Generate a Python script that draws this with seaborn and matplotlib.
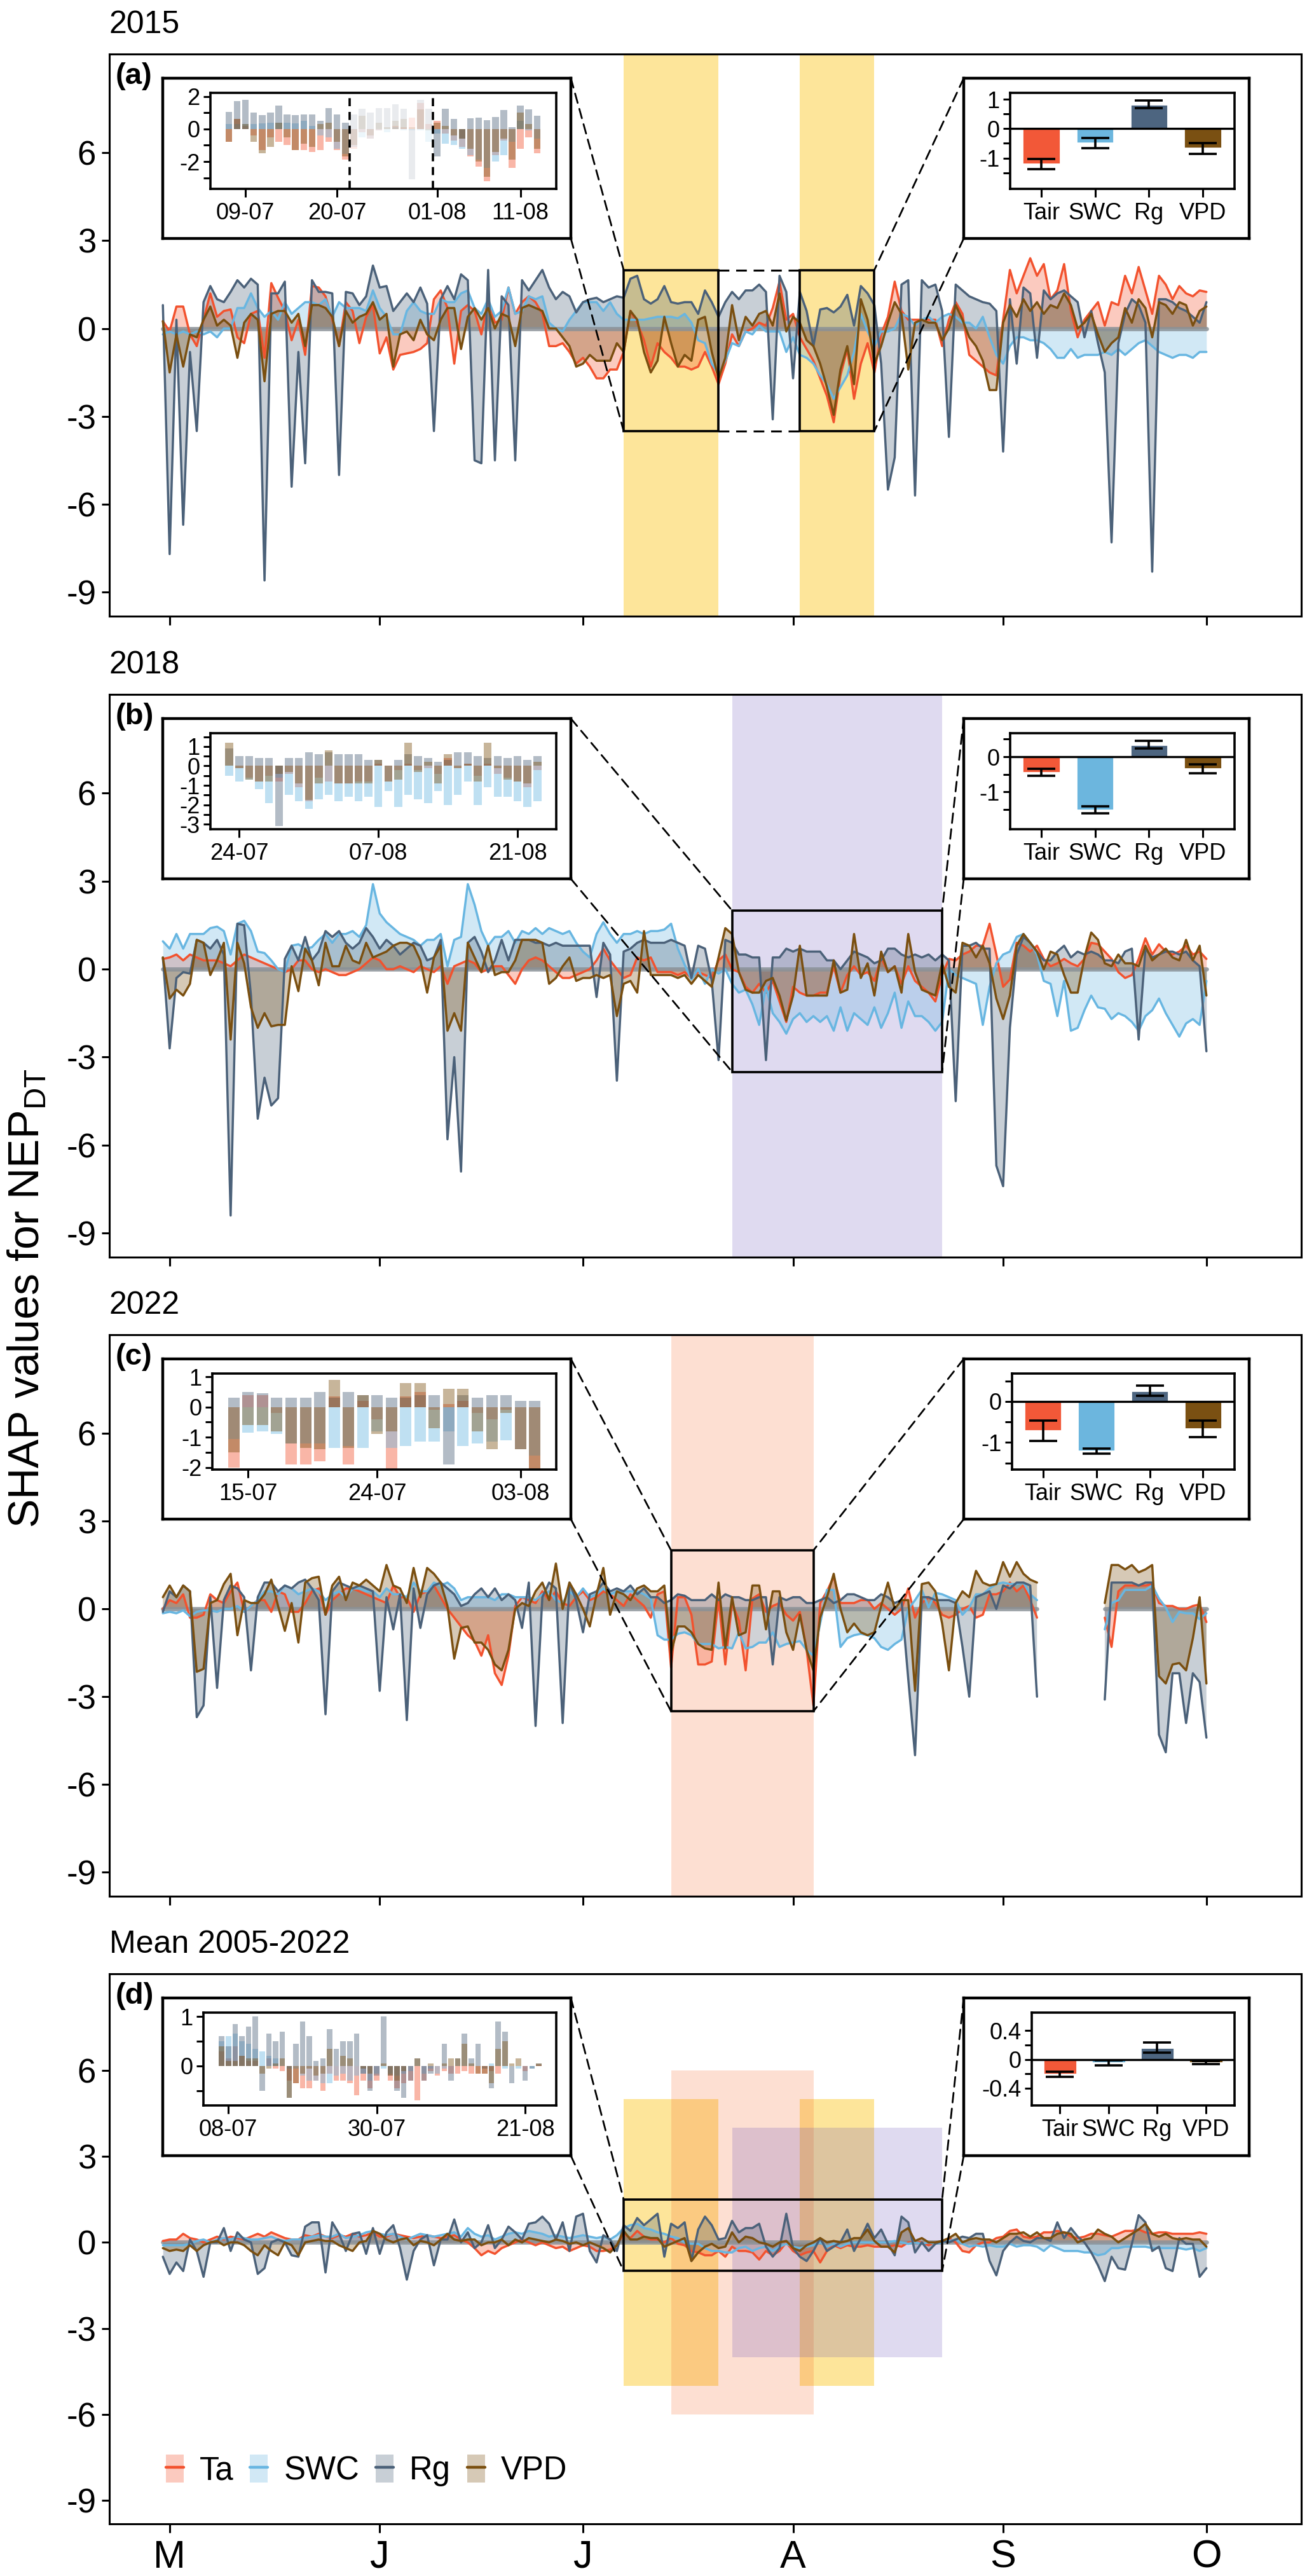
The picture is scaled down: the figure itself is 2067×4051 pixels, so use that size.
import numpy as np
import matplotlib
matplotlib.use("Agg")
import matplotlib.pyplot as plt
import seaborn as sns
from matplotlib.patches import Rectangle, Patch, ConnectionPatch
from matplotlib.lines import Line2D
from matplotlib.legend_handler import HandlerTuple
from matplotlib.ticker import MultipleLocator, FixedLocator, FuncFormatter

nan = np.nan

# day index, 0 = 1 May, 153 = 1 Oct
days = np.arange(-1, 154)
month_pos = [0, 31, 61, 92, 123, 153]
month_lab = ['M', 'J', 'J', 'A', 'S', 'O']

# ---------------- 2015 ----------------
ta_2015 = [0.25, -0.1, 0.75, 0.75, -0.2, -0.6, 0.3, 1.2, 0.4, 0.6,
           0.65, -0.3, -0.5, 0.5, 0.6, -1.0, 1.55, 1.05, 0.6, -0.4,
           0.3, -0.9, 1.45, 1.4, 1.1, 0.3, -0.6, 0.9, 0.6, -0.5,
           0.4, 0.8, -0.85, -0.3, -1.4, -0.9, -0.85, -0.8, -0.7, -0.5,
           1.0, 1.3, 0.7, -1.2, 0.6, 0.8, 0.6, -0.2, 1.0, 0.2,
           0.3, 1.4, 0.5, 0.9, 1.1, 0.9, 0.5, -0.6, -0.6, -0.5,
           -0.8, -1.2, -1.0, -1.3, -1.7, -1.7, -1.4, -1.4, -0.8, 0.6,
           0.2, -0.4, -1.3, -0.5, -0.8, -1.0, -1.3, -1.3, -1.4, -1.3,
           -0.8, -1.3, -1.9, -1.2, -0.2, -0.6, -0.1, 0.0, 0.2, 0.1,
           0.7, 1.6, 0.3, 0.5, -0.3, -0.7, -1.1, -1.7, -2.3, -3.2,
           -1.6, -0.7, -2.4, -1.2, -0.5, -1.5, -0.2, 0.4, 1.6, 0.6,
           0.3, 0.3, 0.3, 0.3, 0.3, -0.6, 0.3, 0.9, 0.5, -0.9,
           -1.1, -1.3, -1.5, -1.6, 0.3, 2.0, 1.2, 1.8, 2.4, 1.8,
           2.2, 1.0, 1.3, 2.2, 0.6, -0.3, 0.3, 0.6, 0.9, 0.1,
           0.9, 0.8, 1.8, 1.2, 2.1, 1.3, 0.5, 1.8, 1.5, 1.0,
           1.45, 1.2, 1.1, 1.3, 1.25]
swc_2015 = [-0.2, -0.1, -0.2, -0.1, -0.2, -0.1, -0.2, -0.1, -0.3, 0.0,
            0.0, 0.7, 0.7, 1.2, 0.7, 0.4, 0.6, 0.3, 0.9, 0.5,
            0.7, 0.9, 0.9, 0.8, 1.0, 0.4, 0.9, 0.7, 0.7, 0.7,
            0.6, 1.3, 0.7, 0.4, -0.2, -0.2, 0.6, 0.9, 0.6, 0.5,
            0.5, 1.0, 0.9, 0.9, 1.2, 1.3, 0.7, 0.5, 1.0, 0.4,
            0.6, 1.4, 0.5, 0.6, 1.1, 1.0, 1.1, 0.2, 0.0, -0.1,
            0.3, 0.6, 0.9, 0.9, 0.9, 0.6, 0.9, 0.5, 0.3, 0.3,
            0.3, 0.3, 0.35, 0.4, 0.4, 0.4, 0.35, 0.5, 0.2, -0.4,
            -0.5, -1.2, -1.55, -1.1, -0.5, -0.6, -0.1, -0.2, 0.1, -0.1,
            -0.1, -0.1, -0.8, -0.3, -0.9, -1.0, -1.2, -1.6, -1.9, -2.4,
            -2.0, -1.6, -0.8, 0.5, -0.1, -0.6, -0.1, -0.1, 0.0, 0.5,
            0.4, 0.1, 0.3, 0.4, 0.2, 0.4, 0.5, 0.4, 0.2, 0.2,
            0.0, 0.4, -0.3, -0.9, -1.2, -0.6, -0.3, -0.3, -0.4, -0.4,
            -0.5, -0.7, -1.0, -1.0, -0.7, -1.0, -0.9, -0.9, -0.9, -0.8,
            -0.9, -0.7, -0.9, -0.7, -0.5, -0.4, -0.6, -0.8, -0.9, -1.0,
            -0.9, -0.9, -1.0, -0.8, -0.8]
rg_2015 = [0.8, -7.7, 0.3, -6.7, -0.8, -3.5, 0.9, 1.45, 1.0, 0.9,
           1.25, 1.65, 1.4, 1.7, 1.5, -8.6, 1.2, 1.2, 1.6, -5.4,
           -0.8, -4.6, 1.65, 1.25, 1.25, 1.2, -5.0, 1.25, 1.2, 0.8,
           1.1, 2.15, 1.4, 1.45, 0.6, 0.9, 1.2, 0.9, 1.4, 0.85,
           -3.5, 1.0, 1.45, 1.0, 1.85, 1.65, -4.5, -4.6, 2.0, -4.5,
           1.1, 0.8, -4.5, 1.65, 1.3, 1.65, 2.0, 1.4, 1.0, 1.25,
           1.1, 0.55, 0.9, 1.0, 1.05, 0.9, 1.0, 1.1, 1.05, 1.7,
           1.8, 1.0, 0.85, 1.0, 1.45, 0.9, 0.85, 0.9, 0.9, 0.5,
           1.3, 0.9, 0.4, 0.9, 1.25, 1.0, 1.3, 1.3, 1.5, 1.25,
           -3.1, 1.8, 1.25, -1.7, 1.25, 0.6, -0.6, 0.65, 0.7, 0.55,
           0.75, 1.15, 0.1, 1.45, 1.2, 0.8, -1.2, -5.5, -4.4, 1.5,
           1.65, -5.7, 1.65, 1.4, 1.5, 0.6, -3.7, 1.5, 1.3, 1.1,
           1.0, 0.9, 0.85, 0.6, -4.2, 1.0, -1.2, 1.4, 1.2, -1.0,
           1.3, 1.0, 1.2, 1.3, 1.1, 0.9, -0.3, 0.6, -0.5, -1.5,
           -7.3, -0.5, 0.5, 1.0, 0.8, 0.2, -8.3, 1.0, 1.0, 0.9,
           0.7, 0.6, 0.4, 0.2, 0.9]
vpd_2015 = [0.25, -1.5, -0.2, -1.3, -0.2, -0.3, 0.3, 0.75, 0.1, 0.3,
            0.1, -1.0, 0.2, 0.5, 0.3, -1.8, 0.5, 0.6, 0.6, 0.2,
            0.5, -0.6, 0.8, 0.8, 0.7, 0.4, -0.6, 0.6, 0.2, 0.4,
            0.5, 0.9, 0.3, 0.5, -1.3, -0.2, -0.1, -0.4, 0.3, -0.2,
            -0.4, 0.3, 0.7, 0.7, -0.7, 0.4, 0.7, 0.3, 0.7, 0.0,
            0.5, 0.4, -0.6, 0.7, 0.8, 0.7, 0.6, 0.0, 0.0, -0.3,
            -0.6, -1.3, -1.2, -0.9, -1.1, -1.1, -1.1, -0.5, -0.8, 0.6,
            0.3, -0.8, -1.5, -1.1, 0.4, -0.5, -1.3, -0.9, -1.1, 0.3,
            0.4, -0.8, -1.7, -1.0, 0.8, -0.4, 0.4, 0.1, 0.5, 0.6,
            0.1, 1.2, -0.1, 0.4, 0.2, -0.4, -0.6, -1.2, -2.0, -2.95,
            -1.4, -0.6, -1.9, 1.0, 0.3, -1.2, -0.6, 0.2, 0.9, 0.5,
            -1.4, 0.2, 0.3, 0.2, 0.2, -0.4, 0.0, 0.8, 0.3, -0.3,
            -0.6, -1.1, -2.1, -2.1, 0.2, 0.8, 0.4, 1.0, 0.6, 0.9,
            0.5, 0.8, 0.7, 1.2, 0.8, 0.0, 0.2, 0.5, -0.2, -0.8,
            -0.5, -0.3, 0.7, 0.2, 1.0, 0.7, -0.3, 0.9, 0.8, 0.5,
            0.9, 0.8, 0.1, 0.6, 0.75]

# ---------------- 2018 ----------------
ta_2018 = [0.35, 0.4, 0.5, 0.3, 0.5, 0.4, 0.3, 0.3, 0.3, 0.2,
           0.1, 0.3, 0.5, 0.4, 0.3, 0.2, 0.1, 0.0, -0.1, 0.0,
           0.3, 0.3, 0.0, -0.1, 0.0, -0.1, -0.2, -0.2, -0.1, 0.0,
           0.2, 0.4, 0.3, 0.0, 0.0, 0.1, 0.0, -0.1, 0.1, 0.0,
           -0.1, 0.1, -0.5, 0.1, 0.2, 0.3, 0.2, -0.1, 0.0, 0.1,
           0.1, -0.2, -0.5, 0.0, 0.3, 0.4, 0.3, 0.1, -0.1, -0.3,
           -0.3, -0.2, -0.1, 0.0, 0.3, 0.7, 0.3, 0.0, -0.3, -0.2,
           0.4, 0.3, 0.4, -0.1, -0.1, -0.1, -0.2, -0.1, -0.3, -0.1,
           -0.2, -0.3, 0.3, 0.5, 0.0, -0.1, -0.6, -0.8, -0.5, -0.8,
           -0.4, -1.1, -1.8, -0.6, -0.8, -0.9, -0.9, -0.8, -0.8, 0.1,
           -0.8, -0.2, 0.1, -0.2, -0.1, -0.4, 0.4, -0.1, 0.1, -0.5,
           0.1, -0.4, -0.6, -0.8, -1.1, -0.2, 0.35, 0.3, 0.5, 0.6,
           0.8, 0.8, 1.55, 0.5, -0.6, -0.35, 0.9, 0.8, 0.6, 0.8,
           0.35, 0.1, 0.2, 0.35, 0.2, 0.1, 0.35, 0.9, 0.85, 0.6,
           0.35, -0.1, -0.3, -0.2, 0.35, 1.05, 0.5, 0.85, 0.6, 0.5,
           0.6, 0.8, 0.5, 0.6, 0.35]
swc_2018 = [0.95, 0.7, 1.2, 0.7, 1.2, 1.2, 1.2, 1.4, 1.45, 1.3,
            0.5, 1.55, 1.65, 1.3, 0.6, 0.55, 0.3, 0.0, -0.1, 0.8,
            0.85, 0.7, 0.75, 1.0, 1.2, 0.9, 1.2, 1.2, 1.3, 1.1,
            1.5, 2.9, 1.9, 1.6, 1.4, 1.2, 1.1, 1.0, 0.8, 1.0,
            1.0, 1.2, 0.1, 1.0, 1.1, 2.9, 2.2, 1.3, 0.8, 1.1,
            1.1, 1.3, 0.9, 1.3, 1.2, 1.4, 1.2, 1.4, 1.3, 1.2,
            1.3, 0.9, 0.6, 0.4, 1.2, 1.6, 1.2, 0.9, 1.2, 1.2,
            1.3, 1.2, 1.3, 1.3, 1.35, 1.55, 0.7, 0.15, -0.35, 0.0,
            -0.5, 0.0, -0.15, 0.0, -0.5, -0.8, -0.7, -1.2, -1.9, -0.6,
            -1.5, -1.8, -2.2, -1.7, -1.5, -1.8, -1.6, -1.8, -1.6, -2.1,
            -1.3, -2.1, -1.5, -1.7, -1.9, -1.3, -2.0, -1.5, -0.8, -2.0,
            -1.1, -1.6, -1.6, -1.8, -2.1, -1.8, 0.0, -0.2, -0.3, -0.4,
            -0.5, -1.9, -0.6, 0.2, 0.5, 0.6, 1.1, 1.2, 0.9, 0.5,
            -0.4, -0.5, -1.6, -0.4, -2.1, -2.0, -1.4, -0.9, -1.3, -1.35,
            -1.7, -1.5, -1.6, -1.8, -2.1, -1.6, -1.4, -1.0, -1.5, -1.9,
            -2.3, -1.85, -1.7, -1.9, -0.4]
rg_2018 = [0.4, -2.7, -0.3, -0.1, -0.15, 1.0, 0.9, 0.7, 1.0, 0.5,
           -8.4, 1.55, 1.5, -0.9, -5.1, -3.7, -4.65, -4.4, 0.35, 0.8,
           0.3, 1.1, 0.3, 0.6, 1.3, 1.1, 1.3, 0.9, 0.7, 0.9,
           1.4, 1.1, 0.7, 1.0, 0.8, 0.5, 0.7, 0.9, 0.8, 0.3,
           0.4, 1.0, -5.8, -3.0, -6.9, 0.9, 1.1, 0.6, -0.1, 0.3,
           1.0, 0.3, 1.0, 1.0, 1.0, 0.9, 0.9, 0.8, 0.9, 0.8,
           0.8, 0.8, 0.8, 0.8, -0.95, 0.9, 0.5, -3.8, 0.6, 0.7,
           0.9, 1.0, 0.9, 0.9, 0.9, 1.0, 0.9, 0.8, -0.3, 0.8,
           0.7, -0.4, -3.1, 1.0, 0.9, 0.5, 0.5, 0.4, 0.4, -3.1,
           0.4, 0.4, 0.7, 0.6, 0.7, 0.6, 0.6, 0.6, 0.3, 0.3,
           0.0, 0.3, 0.6, 0.5, 0.4, 0.2, 0.3, 0.7, 0.7, 0.5,
           0.4, 0.5, 0.4, 0.5, 0.3, 0.5, 0.3, -4.5, 0.8, 0.8,
           0.9, 0.7, 0.7, -6.7, -7.4, -2.0, 0.5, 1.1, 0.9, 0.6,
           0.3, 0.3, 0.6, 0.8, 0.4, 0.6, 0.5, 0.6, 0.5, 0.3,
           0.3, 0.2, 0.6, 0.7, -2.4, 0.7, 0.4, 0.5, 0.6, 0.6,
           0.5, 0.6, 0.3, 0.1, -2.8]
vpd_2018 = [0.4, -1.0, -0.7, -0.9, -0.5, 1.0, 0.9, -0.2, 0.3, 0.9,
            -2.4, 0.9, 0.2, -1.3, -2.0, -1.5, -1.95, -1.9, -1.9, 0.1,
            -0.75, 0.7, 0.3, -0.55, 0.9, 0.1, 0.1, 0.8, 0.3, 0.2,
            0.9, 0.4, 0.5, 0.6, 0.8, 0.9, 0.9, 0.8, 0.3, -0.8,
            0.4, 0.8, -2.1, -1.5, -2.1, 0.9, 0.4, -0.1, 0.8, -0.2,
            -0.1, -0.1, 0.3, 1.0, 1.0, 1.0, 0.9, -0.5, -0.3, 0.1,
            0.4, -0.4, -0.3, -0.3, -0.2, -0.3, -0.2, -1.6, -0.5, -0.4,
            -0.8, 1.3, -0.2, -0.2, -0.2, -0.2, -0.3, -0.2, -0.5, -0.2,
            -0.4, -0.6, 0.4, 1.4, 1.2, -0.1, -0.7, -0.8, -0.8, -0.4,
            -0.3, -0.9, -1.75, -0.9, 0.8, -0.9, -0.9, -0.9, -0.9, 0.3,
            -0.8, -0.7, 1.2, -0.3, 0.2, -0.9, 0.6, -0.1, 0.1, -0.8,
            1.2, -0.1, -0.7, -0.8, -0.9, 0.2, -0.6, -0.8, 0.9, 0.8,
            0.4, 0.8, 0.2, -1.0, -1.7, -0.9, 0.8, 1.2, 0.9, 0.6,
            0.0, 0.6, 0.5, -0.2, -0.8, -0.8, 0.4, 1.25, 1.0, 0.2,
            0.1, 0.5, 0.2, 0.2, 0.1, 0.8, 0.3, 0.5, 0.7, 0.4,
            0.3, 1.0, 0.3, 0.8, -0.9]

# ---------------- 2022 (gap in September) ----------------
ta_2022 = [0.0, 0.3, 0.2, 0.5, -0.3, -0.3, -0.2, 0.5, 0.3, 0.2,
           0.6, 0.9, -0.1, 0.1, 0.3, 0.3, -0.1, 0.6, 0.5, -0.1,
           -0.1, 0.2, 0.6, 0.7, -0.2, 0.3, 0.5, 0.7, 0.7, 0.6,
           0.5, 0.4, 0.3, 0.2, 0.8, 0.4, 0.4, -0.1, 0.5, 0.6,
           0.8, 0.4, 0.0, -0.3, -0.6, -0.9, -1.1, -1.6, -0.9, -2.2,
           -2.6, -1.6, 0.1, 0.4, 0.3, 0.2, 0.6, 0.3, 0.6, 0.2,
           0.1, 0.4, 0.6, 0.3, 0.4, 0.6, 0.5, 0.3, 0.1, 0.5,
           0.3, 0.1, -0.3, 0.5, 0.6, -2.0, 0.4, 0.4, -0.2, -1.9,
           -1.9, -1.8, 0.35, -1.9, 0.2, -0.4, -2.1, 0.35, 0.5, -0.1,
           0.1, 0.2, -0.2, -0.4, -0.1, -1.4, -3.3, 0.2, 0.6, 1.1,
           0.2, 0.2, 0.2, 0.3, 0.3, 0.0, 0.2, 0.0, -0.2, 0.0,
           0.7, -0.3, 0.2, 0.4, 0.2, -0.2, -0.3, -0.2, 0.0, 0.1,
           -0.3, -0.2, 0.5, 0.5, 0.6, 0.9, 0.6, 0.8, 0.3, -0.3,
           nan, nan, nan, nan, nan, nan, nan, nan, nan, -0.3,
           -1.3, 0.6, 0.8, 0.8, 0.8, 0.8, 0.85, 0.2, 0.1, 0.1,
           0.0, 0.0, 0.1, 0.15, -0.45]
swc_2022 = [-0.15, -0.1, -0.15, -0.05, -0.25, -0.1, -0.05, -0.05, -0.1, 0.0,
            0.0, 0.1, -0.1, 0.1, 0.3, 0.6, 0.6, 0.5, 0.8, 0.7,
            0.5, 0.6, 0.7, 0.6, 0.3, 0.5, 0.6, 0.4, 0.7, 0.7,
            0.6, 0.6, 0.4, 0.7, 0.5, 0.5, 0.4, 0.9, 0.6, 0.6,
            0.9, 0.8, 0.9, 0.7, 0.3, 0.4, 0.4, 0.4, 0.4, 0.3,
            0.5, 0.5, 0.4, 0.4, 0.4, 0.3, 0.5, 0.6, 0.3, 0.2,
            0.6, 0.4, 0.7, 0.4, 0.5, 0.7, 0.5, 0.6, 0.6, 0.6,
            0.6, 0.5, 0.35, -0.9, -1.05, -1.05, -0.85, -0.8, -0.9, -1.2,
            -1.2, -1.2, -1.35, -1.3, -1.35, -0.8, -1.35, -1.3, -1.15, -1.15,
            -0.8, -1.3, -1.2, -1.15, -1.1, -1.4, -1.6, -0.5, 0.65, 0.65,
            -1.3, -1.0, -0.9, -0.85, -0.9, -1.0, -1.3, -1.4, -1.2, -1.05,
            0.0, 0.3, 0.65, 0.05, 0.55, 0.5, 0.4, 0.3, -0.2, 0.05,
            0.5, 0.5, 0.7, 0.85, 0.9, 0.85, 0.85, 0.9, 0.5, 0.3,
            nan, nan, nan, nan, nan, nan, nan, nan, nan, -0.7,
            0.2, 0.3, 0.65, 0.65, 0.65, 0.65, 0.8, 0.35, 0.05, -0.45,
            -0.1, -0.15, -0.15, -0.35, -0.15]
rg_2022 = [-0.1, 0.6, 0.4, 0.8, 0.6, -3.7, -3.3, 0.4, -2.7, 0.3,
           0.8, 0.7, 0.4, -2.1, 0.4, 0.9, 0.9, 0.6, 0.8, 0.7,
           0.9, 1.0, 0.7, 0.3, -3.6, 0.6, 0.9, 0.8, 0.7, 0.8,
           0.7, 0.6, -2.8, 0.4, -0.7, 0.5, -3.8, 0.7, -0.65, 0.5,
           0.8, 0.9, 0.7, 0.5, 0.1, 0.2, 0.5, 0.7, 0.4, 0.7,
           0.3, 0.5, 0.3, -0.65, 0.9, -4.0, 0.4, 0.9, 0.7, -3.9,
           0.9, 0.3, -0.8, 0.5, 0.6, 0.9, 0.6, 0.7, 0.6, 0.8,
           0.5, 0.7, 0.4, 0.4, 0.2, 0.3, 0.5, 0.45, 0.3, 0.3,
           0.3, 0.5, 0.3, 0.5, 0.4, 0.4, 0.3, 0.3, 0.4, 0.4,
           -1.9, 0.4, 0.3, 0.4, 0.4, 0.2, 0.2, 0.3, 0.4, 0.2,
           0.3, 0.5, 0.5, 0.4, 0.3, 0.3, 0.5, 0.4, 0.2, 0.3,
           -2.4, -5.0, 0.4, 0.4, 0.3, 0.3, 0.3, 0.2, -1.3, -3.0,
           0.4, 0.5, 0.6, 0.0, 0.8, 0.7, 0.9, 0.9, 0.8, -3.0,
           nan, nan, nan, nan, nan, nan, nan, nan, nan, -3.1,
           0.9, 0.9, 0.9, 0.9, 0.8, 0.9, 0.9, -4.3, -4.9, -2.2,
           -2.2, -3.9, -2.2, -2.5, -4.4]
vpd_2022 = [0.4, 0.8, 0.4, 0.8, 0.6, -2.15, -2.05, 0.2, 0.3, 0.85,
            1.2, -0.9, 0.3, 0.2, 0.2, 0.5, 1.0, 0.1, -0.75, 0.2,
            -1.15, 0.9, 1.05, 1.1, -0.2, 0.8, 1.1, 0.3, 0.9, 0.8,
            1.0, 0.8, 0.6, 1.5, 0.8, 0.7, 0.2, 1.4, 0.4, 1.4,
            1.2, 0.9, 0.1, -1.7, -0.65, -0.6, -1.15, -1.15, -1.4, -1.9,
            -2.1, -1.4, 0.0, 0.2, 0.1, 0.6, 0.9, 0.3, 1.55, 0.0,
            0.9, 0.5, 0.0, -0.6, 0.5, 1.4, -0.2, 0.6, 0.5, 0.3,
            0.7, 0.8, 0.6, 0.6, 0.8, -1.5, -0.6, -0.6, -0.8, -1.2,
            -1.35, -1.4, 0.9, -1.35, 0.4, -0.9, -0.8, 0.8, 0.8, -0.7,
            0.6, 0.6, -0.8, -1.4, -0.2, -1.4, -2.1, -0.3, 0.4, 1.2,
            0.0, -0.8, -0.5, -0.8, -0.9, -0.8, 0.1, 0.9, 0.0, 0.3,
            0.3, -2.8, 0.85, 0.9, 0.6, -0.5, -2.1, 0.2, 0.6, 0.4,
            1.3, 0.9, 0.8, 0.85, 1.6, 1.1, 1.6, 1.2, 1.0, 0.9,
            nan, nan, nan, nan, nan, nan, nan, nan, nan, 0.2,
            1.5, 1.5, 1.35, 1.5, 1.25, 1.35, 1.5, -2.3, -2.55, -1.9,
            -1.85, -2.1, -1.0, 0.4, -2.55]

# ---------------- mean 2005-2022 ----------------
ta_mean = [0.05, 0.1, 0.1, 0.3, 0.15, 0.1, 0.0, 0.1, 0.2, 0.1,
           0.2, 0.15, 0.1, 0.2, 0.3, 0.2, 0.35, 0.25, 0.15, 0.1,
           0.1, 0.25, 0.2, 0.3, 0.2, 0.15, 0.25, 0.2, 0.3, 0.2,
           0.25, 0.35, 0.2, 0.2, 0.3, 0.25, 0.2, 0.15, 0.2, 0.25,
           0.2, 0.15, 0.2, 0.25, 0.1, 0.0, -0.2, -0.45, -0.3, -0.4,
           -0.2, -0.1, 0.0, 0.1, 0.0, -0.1, 0.0, -0.1, -0.2, -0.15,
           -0.3, -0.2, -0.1, -0.15, -0.3, -0.3, -0.25, -0.1, 0.3, 0.15,
           0.4, 0.2, 0.1, 0.1, 0.0, 0.15, -0.05, -0.1, -0.3, -0.35,
           -0.45, -0.45, -0.3, -0.5, -0.15, -0.3, -0.3, -0.35, -0.6, -0.3,
           -0.45, -0.3, 0.0, -0.3, -0.45, -0.35, -0.3, -0.7, -0.3, -0.1,
           -0.2, -0.1, -0.15, -0.15, -0.1, -0.15, -0.15, -0.15, -0.1, -0.15,
           0.0, 0.0, 0.0, -0.1, 0.0, 0.03, 0.15, 0.0, -0.3, -0.35,
           -0.1, 0.0, 0.0, 0.15, 0.2, 0.4, 0.45, 0.2, 0.15, 0.2,
           0.35, 0.35, 0.4, 0.35, 0.2, 0.15, 0.2, 0.3, 0.3, 0.25,
           0.2, 0.3, 0.4, 0.4, 0.45, 0.35, 0.3, 0.35, 0.35, 0.3,
           0.3, 0.3, 0.3, 0.35, 0.3]
swc_mean = [-0.1, -0.1, -0.1, -0.1, -0.05, 0.05, 0.1, 0.0, 0.1, 0.15,
            0.1, 0.2, 0.15, 0.1, 0.1, 0.15, 0.2, 0.1, 0.05, 0.1,
            0.1, 0.15, 0.2, 0.25, 0.2, 0.2, 0.3, 0.15, 0.2, 0.25,
            0.35, 0.4, 0.3, 0.25, 0.3, 0.2, 0.1, 0.2, 0.3, 0.25,
            0.2, 0.25, 0.3, 0.35, 0.2, 0.5, 0.3, 0.2, 0.25, 0.1,
            0.2, 0.3, 0.35, 0.3, 0.4, 0.35, 0.3, 0.2, 0.25, 0.2,
            0.15, 0.2, 0.25, 0.2, 0.15, 0.2, 0.1, 0.25, 0.5, 0.6,
            0.65, 0.5, 0.45, 0.35, 0.3, 0.2, 0.15, 0.0, -0.05, -0.05,
            -0.2, -0.3, -0.3, -0.35, -0.35, -0.2, -0.15, -0.3, -0.2, -0.15,
            -0.3, -0.15, -0.05, -0.15, -0.2, -0.15, -0.1, 0.0, -0.15, -0.05,
            -0.15, -0.05, 0.0, 0.0, 0.0, 0.0, 0.0, 0.0, 0.05, 0.0,
            -0.05, 0.0, -0.05, 0.0, -0.05, 0.0, 0.05, 0.1, -0.05, -0.15,
            -0.1, -0.15, -0.1, -0.15, -0.15, -0.05, -0.15, -0.1, -0.1, -0.15,
            -0.3, -0.1, -0.2, -0.3, -0.3, -0.3, -0.35, -0.35, -0.45, -0.4,
            -0.2, -0.2, -0.15, -0.15, -0.15, -0.15, -0.2, -0.2, -0.2, -0.2,
            -0.2, -0.25, -0.2, -0.3, -0.2]
rg_mean = [-0.5, -1.1, -0.7, -1.0, 0.1, -0.3, -1.2, 0.0, 0.0, 0.5,
           -0.3, 0.35, 0.1, 0.0, -1.1, -0.9, 0.0, 0.1, 0.0, -0.45,
           -0.5, 0.55, 0.7, 0.7, -1.05, 0.7, 0.3, -0.3, 0.3, 0.35,
           -0.4, 0.5, -0.4, 0.35, 0.6, -0.2, -1.3, -0.3, 0.1, 0.25,
           -0.8, 0.1, 0.1, 0.8, 0.0, 0.35, -0.2, 0.0, 0.6, -0.2,
           0.1, 0.55, 0.35, 0.1, 0.65, 0.7, 0.9, 0.65, 0.1, 0.7,
           -0.3, 0.9, 1.0, -0.3, -0.7, 0.25, 0.1, -0.3, 0.6, 0.4,
           0.85, 0.6, 0.8, 1.0, -0.5, 0.65, 0.5, 0.7, -0.65, 0.45,
           0.9, 0.6, 0.1, 0.15, 0.75, 0.35, 0.5, 0.5, 0.65, -0.15,
           -0.5, -0.2, 1.0, -0.2, -0.5, -0.65, -0.3, 0.15, -0.3, -0.15,
           0.0, 0.45, -0.3, 0.15, 0.65, 0.15, 0.45, -0.05, -0.45, 0.9,
           0.7, -0.35, 0.0, -0.3, -0.05, 0.05, 0.0, 0.1, 0.2, 0.15,
           0.3, 0.3, -0.65, -1.15, -0.3, 0.0, 0.2, 0.05, 0.0, 0.15,
           0.15, 0.05, 0.7, 0.15, 0.5, 0.2, 0.0, -0.35, -0.8, -1.35,
           -0.5, -0.9, -0.95, -0.05, 0.95, 0.7, -0.3, -0.15, -0.9, -1.0,
           0.15, -0.05, -0.05, -1.2, -0.9]
vpd_mean = [-0.2, -0.3, -0.25, -0.3, -0.1, -0.3, -0.1, 0.0, 0.05, -0.1,
            0.0, 0.0, -0.1, -0.3, -0.45, -0.1, -0.3, -0.45, 0.0, -0.1,
            -0.45, 0.0, 0.05, 0.1, 0.05, 0.05, -0.1, -0.2, -0.3, 0.0,
            0.05, 0.4, 0.3, 0.1, 0.0, 0.1, 0.15, -0.1, 0.05, 0.0,
            -0.1, 0.1, 0.3, 0.1, 0.05, 0.1, 0.1, -0.1, 0.0, 0.0,
            0.1, -0.1, 0.1, 0.0, 0.15, 0.1, 0.05, 0.0, 0.1, 0.05,
            -0.05, 0.0, -0.1, 0.0, -0.1, -0.2, -0.35, -0.1, 0.4, 0.1,
            0.1, 0.2, 0.15, 0.15, -0.15, -0.05, 0.05, 0.15, -0.65, -0.35,
            -0.15, -0.05, -0.2, -0.15, 0.35, 0.0, 0.2, 0.15, 0.0, -0.05,
            -0.15, 0.0, 0.05, -0.2, -0.3, -0.1, 0.0, 0.15, 0.0, 0.05,
            0.0, 0.05, 0.15, 0.15, 0.45, 0.05, -0.15, -0.15, -0.35, 0.35,
            0.5, 0.05, 0.15, 0.0, 0.0, 0.05, 0.15, 0.3, 0.0, 0.1,
            0.15, 0.1, 0.1, 0.0, 0.15, 0.3, 0.3, 0.35, 0.2, 0.35,
            0.15, 0.15, 0.3, 0.35, 0.3, 0.0, 0.1, 0.15, 0.45, 0.3,
            0.2, 0.0, 0.15, 0.3, 0.45, 0.65, 0.3, 0.2, 0.3, 0.15,
            0.1, 0.15, 0.1, 0.1, -0.15]

# heatwave windows (day index) and summary bars
hw_2015 = [(67, 81), (93, 104)]
hw_2018 = [(83, 114)]
hw_2022 = [(74, 95)]
drivers = ['Tair', 'SWC', 'Rg', 'VPD']
mean_2015, se_2015 = [-1.2, -0.49, 0.835, -0.67], [0.17, 0.18, 0.125, 0.19]
mean_2018, se_2018 = [-0.45, -1.51, 0.34, -0.34], [0.1, 0.1, 0.11, 0.13]
mean_2022, se_2022 = [-0.72, -1.21, 0.26, -0.67], [0.25, 0.06, 0.12, 0.2]
mean_all, se_all = [-0.207, -0.045, 0.165, -0.045], [0.037, 0.035, 0.072, 0.025]

# ---------------- style ----------------
sns.set_style("ticks", {"axes.edgecolor": "black", "xtick.color": "black",
                        "ytick.color": "black", "text.color": "black",
                        "axes.labelcolor": "black"})
plt.rcParams['font.family'] = ['Liberation Sans', 'DejaVu Sans']
plt.rcParams['mathtext.fontset'] = 'custom'
plt.rcParams['mathtext.rm'] = 'Liberation Sans'
plt.rcParams['axes.unicode_minus'] = False

names = ['Ta', 'SWC', 'Rg', 'VPD']
col = {'Ta': '#F2522E', 'SWC': '#68B6E1', 'Rg': '#4B6179', 'VPD': '#7A4F10'}
bar_cols = ['#F25838', '#6CB6DE', '#4D6580', '#7A5012']
# heatwave shading (colour, alpha)
sh_2015 = ('#FAC003', 0.4)
sh_2022 = ('#F55F1E', 0.2)
sh_2018 = ('#5F46B4', 0.2)
dash = (0, (5.5, 3.5))

W, H = 2067, 4051
fig = plt.figure(figsize=(W / 200, H / 200), dpi=200)


def rect(l, t, r, b):
    return [l / W, 1 - b / H, (r - l) / W, (b - t) / H]


def gfmt(v, pos):
    return '0' if abs(v) < 1e-9 else f'{v:g}'


def connect(outer, corner, ax, xy):
    con = ConnectionPatch(xyA=corner, coordsA=outer.transAxes, xyB=xy,
                          coordsB=ax.transData, linestyle=dash, lw=1.0,
                          color='black')
    fig.add_artist(con)


def main_panel(top, bot, series, title, tag, months=False):
    ax = fig.add_axes(rect(172, top, 2047, bot))
    ax.set_xlim(-8.9, 167.0)
    ax.set_ylim(-9.82, 9.37)
    for nm in names:
        y = np.asarray(series[nm], float)
        ax.fill_between(days, 0, y, color=col[nm], alpha=0.3, lw=0, zorder=2)
    zero = np.where(np.isnan(np.asarray(series['Rg'], float)), nan, 0.0)
    ax.plot(days, zero, color='#8A9197', lw=2.4, alpha=0.85, zorder=2.5)
    for nm in names:
        ax.plot(days, np.asarray(series[nm], float), color=col[nm], lw=1.25,
                zorder=3)
    ax.set_yticks([-9, -6, -3, 0, 3, 6])
    ax.yaxis.set_major_formatter(FuncFormatter(gfmt))
    ax.set_xticks(month_pos)
    ax.set_xticklabels(month_lab if months else [])
    ax.tick_params(axis='y', direction='out', length=4.5, width=1.1,
                   labelsize=19, pad=3)
    ax.tick_params(axis='x', direction='out', length=5, width=1.1,
                   labelsize=22, pad=4)
    for s in ax.spines.values():
        s.set_linewidth(1.1)
    ax.set_title(title, loc='left', fontsize=18, pad=12)
    ax.text(0.005, 0.985, tag, transform=ax.transAxes, ha='left', va='top',
            fontsize=17, fontweight='bold')
    return ax


def shade(ax, x0, x1, sh, half=None):
    c, a = sh
    if half is None:
        ax.axvspan(x0, x1, color=c, alpha=a, lw=0, zorder=0)
    else:
        ax.add_patch(Rectangle((x0, -half), x1 - x0, 2 * half, color=c,
                               alpha=a, lw=0, zorder=0))


def outer_box(l, t, r, b):
    o = fig.add_axes(rect(l, t, r, b))
    o.set_xticks([])
    o.set_yticks([])
    o.set_facecolor('white')
    for s in o.spines.values():
        s.set_linewidth(1.6)
    return o


def left_inset(top, series, win, inner_l, xlim, ylim, major, minor,
               xt, xtl, fade=None, hgt=(38, 290, 61, 212)):
    outer = outer_box(256, top + hgt[0], 898, top + hgt[1])
    inn = fig.add_axes(rect(inner_l, top + hgt[2], 875, top + hgt[3]))
    tt = np.arange(win[0], win[1] + 1)
    faded = np.zeros(len(tt), bool) if fade is None else \
        (tt >= fade[0]) & (tt <= fade[1])
    for nm in names:
        v = np.asarray(series[nm], float)[tt + 1]
        inn.bar(tt[~faded], v[~faded], width=0.8, color=col[nm], alpha=0.42,
                lw=0)
        if faded.any():
            inn.bar(tt[faded], v[faded], width=0.8, color=col[nm],
                    alpha=0.12, lw=0)
    if fade is not None:
        for xv in (fade[0] - 0.5, fade[1] + 0.5):
            inn.axvline(xv, color='black', lw=1.3, ls=(0, (3.5, 2.5)))
    inn.set_xlim(*xlim)
    inn.set_ylim(*ylim)
    inn.yaxis.set_major_locator(MultipleLocator(major))
    inn.yaxis.set_minor_locator(MultipleLocator(minor))
    inn.yaxis.set_major_formatter(FuncFormatter(gfmt))
    inn.set_xticks(xt)
    inn.set_xticklabels(xtl)
    inn.tick_params(which='both', direction='out', length=4, width=1.1,
                    labelsize=13, pad=2)
    inn.tick_params(axis='x', length=4.5, pad=3)
    for s in inn.spines.values():
        s.set_linewidth(1.3)
    return outer


def right_inset(top, means, errs, inner_l, ylim, majors, minors,
                hgt=(38, 290, 61, 212)):
    outer = outer_box(1516, top + hgt[0], 1965, top + hgt[1])
    inn = fig.add_axes(rect(inner_l, top + hgt[2], 1942, top + hgt[3]))
    sns.barplot(x=drivers, y=means, hue=drivers, palette=bar_cols,
                legend=False, width=0.7, saturation=1, ax=inn)
    inn.errorbar(np.arange(4), means, yerr=errs, fmt='none', ecolor='black',
                 elinewidth=1.3, capsize=8, capthick=1.3)
    inn.axhline(0, color='black', lw=1.2)
    inn.set_xlim(-0.58, 3.59)
    inn.set_ylim(*ylim)
    inn.set_xlabel('')
    inn.set_ylabel('')
    inn.yaxis.set_major_locator(FixedLocator(majors))
    inn.yaxis.set_minor_locator(FixedLocator(minors))
    inn.yaxis.set_major_formatter(FuncFormatter(gfmt))
    inn.tick_params(which='both', direction='out', length=4, width=1.1,
                    labelsize=13, pad=2)
    inn.tick_params(axis='x', length=4.5, pad=3)
    for s in inn.spines.values():
        s.set_linewidth(1.3)
    return outer


def zoom_box(ax, x0, x1, y0, y1):
    ax.add_patch(Rectangle((x0, y0), x1 - x0, y1 - y0, fill=False,
                           ec='black', lw=1.3, zorder=5))


# ---------------- (a) 2015 ----------------
sa = {'Ta': ta_2015, 'SWC': swc_2015, 'Rg': rg_2015, 'VPD': vpd_2015}
top = 85
ax = main_panel(top, 969, sa, '2015', '(a)')
for x0, x1 in hw_2015:
    shade(ax, x0, x1, sh_2015)
    zoom_box(ax, x0, x1, -3.5, 2.0)
ax.plot([81, 93], [2.0, 2.0], color='black', lw=1.1, ls=dash, zorder=5)
ax.plot([81, 93], [-3.5, -3.5], color='black', lw=1.1, ls=dash, zorder=5)
o1 = left_inset(top, sa, (67, 104), 331, (64.8, 106.3), (-3.68, 2.22), 2, 1,
                [69, 80, 92, 102], ['09-07', '20-07', '01-08', '11-08'],
                fade=(82, 91))
o2 = right_inset(top, mean_2015, se_2015, 1589, (-2.05, 1.22),
                 [-1, 0, 1], [-1.5, -0.5, 0.5])
connect(o1, (1, 1), ax, (67, 2.0))
connect(o1, (1, 0), ax, (67, -3.5))
connect(o2, (0, 1), ax, (104, 2.0))
connect(o2, (0, 0), ax, (104, -3.5))

# ---------------- (b) 2018 ----------------
sb = {'Ta': ta_2018, 'SWC': swc_2018, 'Rg': rg_2018, 'VPD': vpd_2018}
top = 1092
ax = main_panel(top, 1977, sb, '2018', '(b)')
for x0, x1 in hw_2018:
    shade(ax, x0, x1, sh_2018)
    zoom_box(ax, x0, x1, -3.5, 2.0)
o1 = left_inset(top, sb, (83, 114), 331, (81.1, 115.9), (-3.25, 1.68), 1, 0.5,
                [84, 98, 112], ['24-07', '07-08', '21-08'])
o2 = right_inset(top, mean_2018, se_2018, 1589, (-2.06, 0.67),
                 [-1, 0], [-1.5, -0.5, 0.5])
connect(o1, (1, 1), ax, (83, 2.0))
connect(o1, (1, 0), ax, (83, -3.5))
connect(o2, (0, 1), ax, (114, 2.0))
connect(o2, (0, 0), ax, (114, -3.5))

# ---------------- (c) 2022 ----------------
sc = {'Ta': ta_2022, 'SWC': swc_2022, 'Rg': rg_2022, 'VPD': vpd_2022}
top = 2099
ax = main_panel(top, 2982, sc, '2022', '(c)')
for x0, x1 in hw_2022:
    shade(ax, x0, x1, sh_2022)
    zoom_box(ax, x0, x1, -3.5, 2.0)
o1 = left_inset(top, sc, (74, 95), 334, (72.5, 96.5), (-2.07, 1.11), 1, 0.5,
                [75, 84, 94], ['15-07', '24-07', '03-08'])
o2 = right_inset(top, mean_2022, se_2022, 1592, (-1.66, 0.68),
                 [-1, 0], [-1.5, -0.5, 0.5])
connect(o1, (1, 1), ax, (74, 2.0))
connect(o1, (1, 0), ax, (74, -3.5))
connect(o2, (0, 1), ax, (95, 2.0))
connect(o2, (0, 0), ax, (95, -3.5))

# ---------------- (d) mean ----------------
sd = {'Ta': ta_mean, 'SWC': swc_mean, 'Rg': rg_mean, 'VPD': vpd_mean}
top = 3104
ax = main_panel(top, 3969, sd, 'Mean 2005-2022', '(d)', months=True)
for x0, x1 in hw_2015:
    shade(ax, x0, x1, sh_2015, half=5)
for x0, x1 in hw_2022:
    shade(ax, x0, x1, sh_2022, half=6)
for x0, x1 in hw_2018:
    shade(ax, x0, x1, sh_2018, half=4)
zoom_box(ax, 67, 114, -1.0, 1.5)
hd = (38, 286, 61, 207)
o1 = left_inset(top, sd, (67, 114), 320, (64.3, 116.6), (-0.8, 1.08), 1, 0.5,
                [68, 90, 112], ['08-07', '30-07', '21-08'], hgt=hd)
o2 = right_inset(top, mean_all, se_all, 1623, (-0.64, 0.65),
                 [-0.4, 0, 0.4], [-0.2, 0.2], hgt=hd)
connect(o1, (1, 1), ax, (67, 1.5))
connect(o1, (1, 0), ax, (67, -1.0))
connect(o2, (0, 1), ax, (114, 1.5))
connect(o2, (0, 0), ax, (114, -1.0))

handles = [(Patch(facecolor=col[nm], alpha=0.3, lw=0),
            Line2D([0], [0], color=col[nm], lw=1.6)) for nm in names]
ax.legend(handles, names, loc='center left', bbox_to_anchor=(0.023, 0.097),
          ncol=4, frameon=False, fontsize=18.3, handlelength=0.55,
          handleheight=0.95, handletextpad=0.5, columnspacing=0.5,
          handler_map={tuple: HandlerTuple(ndivide=1)})

fig.text(0.021, 0.496, 'SHAP values for NEP$_{\\mathrm{DT}}$', rotation=90,
         ha='center', va='center', fontsize=24.5)

fig.savefig('out.png', dpi=200)
